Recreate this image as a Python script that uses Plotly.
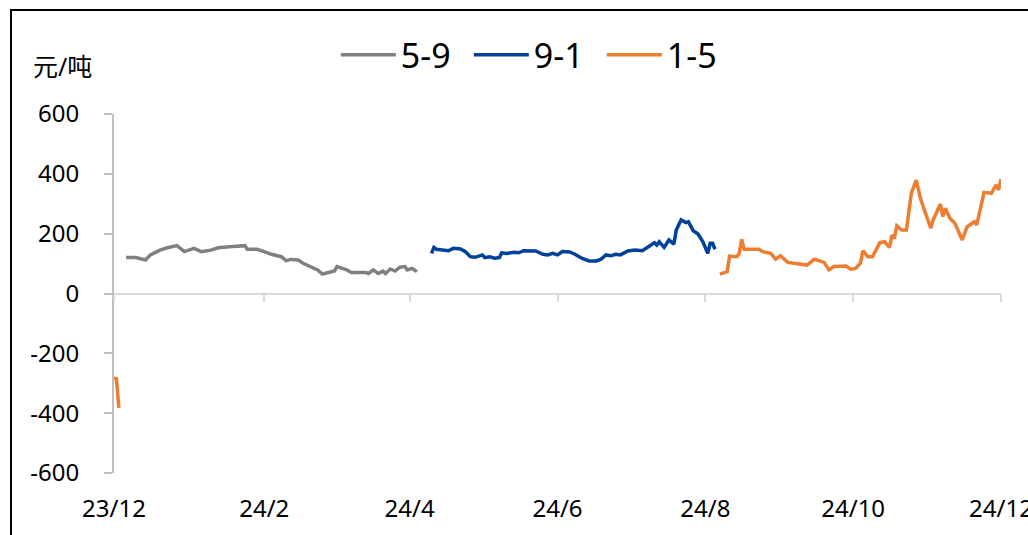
import plotly.graph_objects as go

# 5-9 价差
dates_59 = [
    "2023-12-06", "2023-12-10", "2023-12-14", "2023-12-16", "2023-12-20", "2023-12-23",
    "2023-12-27", "2023-12-30", "2024-01-03", "2024-01-06", "2024-01-10", "2024-01-13",
    "2024-01-19", "2024-01-24", "2024-01-25", "2024-01-29", "2024-02-01", "2024-02-04",
    "2024-02-08", "2024-02-10", "2024-02-12", "2024-02-15", "2024-02-17", "2024-02-20",
    "2024-02-23", "2024-02-25", "2024-02-28", "2024-03-01", "2024-03-02", "2024-03-06",
    "2024-03-08", "2024-03-14", "2024-03-15", "2024-03-17", "2024-03-19", "2024-03-21",
    "2024-03-22", "2024-03-24", "2024-03-26", "2024-03-28", "2024-03-30", "2024-03-31",
    "2024-04-02", "2024-04-04",
]
vals_59 = [
    120, 120, 112, 129, 145, 153,
    160, 140, 151, 140, 145, 153,
    157, 160, 148, 148, 140, 131,
    123, 110, 114, 112, 101, 90,
    79, 65, 72, 75, 90, 79,
    70, 70, 67, 79, 67, 75,
    67, 82, 75, 88, 90, 79,
    84, 73,
]

# 9-1 价差
dates_91 = [
    "2024-04-10", "2024-04-11", "2024-04-12", "2024-04-17", "2024-04-19", "2024-04-22",
    "2024-04-24", "2024-04-26", "2024-04-28", "2024-05-01", "2024-05-02", "2024-05-04",
    "2024-05-06", "2024-05-08", "2024-05-09", "2024-05-11", "2024-05-14", "2024-05-16",
    "2024-05-18", "2024-05-23", "2024-05-26", "2024-05-28", "2024-05-30", "2024-06-01",
    "2024-06-03", "2024-06-06", "2024-06-08", "2024-06-11", "2024-06-14", "2024-06-17",
    "2024-06-19", "2024-06-21", "2024-06-23", "2024-06-25", "2024-06-27", "2024-06-30",
    "2024-07-03", "2024-07-06", "2024-07-09", "2024-07-11", "2024-07-12", "2024-07-13",
    "2024-07-15", "2024-07-17", "2024-07-19", "2024-07-20", "2024-07-22", "2024-07-24",
    "2024-07-25", "2024-07-27", "2024-07-29", "2024-07-31", "2024-08-02", "2024-08-03",
    "2024-08-04", "2024-08-05",
]
vals_91 = [
    134, 154, 148, 143, 151, 149,
    140, 123, 121, 129, 120, 123,
    118, 120, 136, 134, 138, 136,
    143, 142, 131, 129, 134, 129,
    140, 139, 132, 118, 109, 109,
    115, 129, 126, 131, 129, 142,
    145, 143, 159, 170, 162, 173,
    154, 179, 165, 212, 246, 237,
    240, 210, 199, 173, 134, 168,
    168, 148,
]

# 1-5 价差（23年12月初的一小段 + 8月以后）
dates_15_old = ["2023-12-01", "2023-12-02", "2023-12-03"]
vals_15_old = [-283, -285, -382]

dates_15 = [
    "2024-08-07", "2024-08-10", "2024-08-11", "2024-08-14", "2024-08-15", "2024-08-16",
    "2024-08-17", "2024-08-23", "2024-08-25", "2024-08-28", "2024-08-30", "2024-09-01",
    "2024-09-04", "2024-09-12", "2024-09-15", "2024-09-19", "2024-09-21", "2024-09-23",
    "2024-09-28", "2024-09-30", "2024-10-02", "2024-10-04", "2024-10-05", "2024-10-07",
    "2024-10-09", "2024-10-10", "2024-10-12", "2024-10-14", "2024-10-16", "2024-10-17",
    "2024-10-18", "2024-10-19", "2024-10-21", "2024-10-23", "2024-10-25", "2024-10-27",
    "2024-10-29", "2024-11-02", "2024-11-03", "2024-11-06", "2024-11-07", "2024-11-08",
    "2024-11-10", "2024-11-12", "2024-11-14", "2024-11-15", "2024-11-17", "2024-11-20",
    "2024-11-21", "2024-11-22", "2024-11-24", "2024-11-27", "2024-11-29", "2024-11-30",
    "2024-12-01",
]
vals_15 = [
    65, 73, 125, 123, 134, 181,
    148, 148, 139, 134, 115, 126,
    104, 95, 115, 104, 79, 90,
    92, 81, 84, 101, 143, 123,
    123, 140, 170, 173, 154, 195,
    184, 226, 212, 212, 335, 379,
    312, 218, 246, 299, 257, 285,
    251, 235, 196, 179, 223, 240,
    229, 268, 338, 335, 363, 346,
    382,
]

y_ticks = [-600, -400, -200, 0, 200, 400, 600]
y_ticktext = ["-600", "-400", "-200", "0", "200", "400", "600"]

FONT = "Noto Sans, Noto Sans CJK SC, sans-serif"
X_RANGE = ["2023-12-01", "2024-12-01"]

fig = go.Figure()
fig.add_trace(go.Scatter(x=dates_59, y=vals_59, name="5-9", mode="lines",
                         line=dict(color="#808080", width=3.5)))
fig.add_trace(go.Scatter(x=dates_91, y=vals_91, name="9-1", mode="lines",
                         line=dict(color="#00429A", width=3.5)))
fig.add_trace(go.Scatter(x=dates_15_old, y=vals_15_old, name="1-5", mode="lines",
                         line=dict(color="#ED7D31", width=3.5), legendgroup="15",
                         showlegend=False))
fig.add_trace(go.Scatter(x=dates_15, y=vals_15, name="1-5", mode="lines",
                         line=dict(color="#ED7D31", width=3.5), legendgroup="15"))
# 零轴（带刻度线）
fig.add_trace(go.Scatter(x=[], y=[], xaxis="x2", showlegend=False, hoverinfo="skip"))

fig.update_layout(
    width=1028,
    height=535,
    margin=dict(l=114, r=27, t=114, b=62, autoexpand=False),
    paper_bgcolor="white",
    plot_bgcolor="white",
    font=dict(family=FONT, size=24, color="black"),
    showlegend=True,
    legend=dict(
        orientation="h",
        x=0.475, xanchor="center",
        y=1.164, yanchor="middle",
        font=dict(size=34),
        itemwidth=55,
        entrywidth=63,
        bgcolor="rgba(0,0,0,0)",
    ),
    xaxis=dict(
        type="date",
        range=X_RANGE,
        dtick="M2",
        tick0="2023-12-01",
        tickformat="%y/%-m",
        showgrid=False,
        zeroline=False,
        showline=False,
        automargin=False,
        ticks="outside",
        ticklen=14,
        tickcolor="rgba(0,0,0,0)",
        ticklabeloverflow="allow",
        tickfont=dict(size=24),
    ),
    xaxis2=dict(
        type="date",
        overlaying="x",
        anchor="free",
        position=0.5,
        range=X_RANGE,
        dtick="M2",
        tick0="2023-12-01",
        showgrid=False,
        zeroline=False,
        showline=True,
        automargin=False,
        linecolor="#D9D9D9",
        linewidth=2,
        ticks="outside",
        ticklen=7,
        tickcolor="#D9D9D9",
        tickwidth=2,
        showticklabels=False,
    ),
    yaxis=dict(
        range=[-600, 600],
        tickvals=y_ticks,
        ticktext=y_ticktext,
        showgrid=False,
        zeroline=False,
        showline=True,
        automargin=False,
        linecolor="#BFBFBF",
        linewidth=2,
        ticks="outside",
        ticklen=8,
        tickcolor="#BFBFBF",
        tickwidth=2,
        ticklabelstandoff=20,
        tickfont=dict(size=24),
    ),
    annotations=[
        dict(text="元/吨", xref="paper", yref="paper", x=-0.0586, y=1.1337,
             xanchor="center", yanchor="middle", showarrow=False,
             font=dict(size=25)),
    ],
    shapes=[
        dict(type="rect", xref="paper", yref="paper",
             x0=-0.1161, x1=1.2, y0=-0.3, y1=1.2897,
             line=dict(color="black", width=2), fillcolor="rgba(0,0,0,0)",
             layer="below"),
    ],
)

fig.write_html("out.html", config={"displayModeBar": False},
               post_script="document.body.style.margin='0';")
